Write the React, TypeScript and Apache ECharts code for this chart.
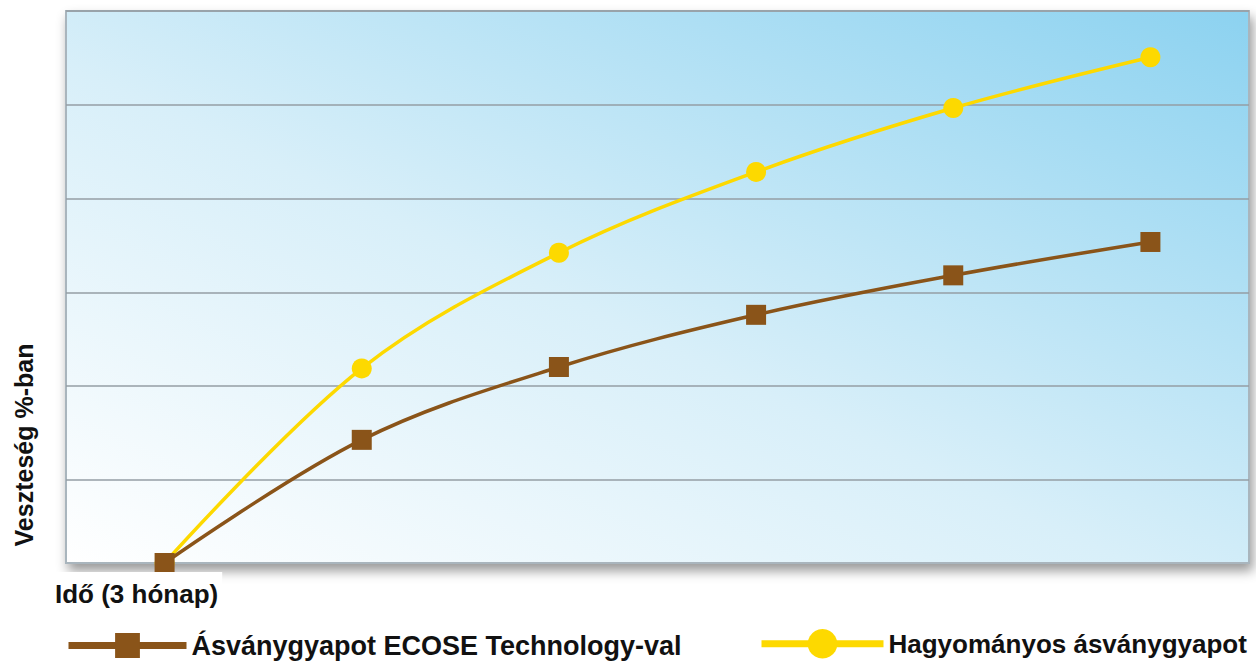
import React, { useEffect, useRef } from "react";
import * as echarts from "echarts";

// Time steps (3-month periods) – labels are not shown in the original
const categories = ["1", "2", "3", "4", "5", "6"];
// Loss values (relative units)
const ecoseValues = [0, 1.31, 2.085, 2.64, 3.06, 3.415];
const traditionalValues = [0, 2.07, 3.3, 4.16, 4.84, 5.38];

const ecoseName = "Ásványgyapot ECOSE Technology-val";
const traditionalName = "Hagyományos ásványgyapot";
const yAxisTitle = "Veszteség %-ban";
const xAxisTitle = "Idő (3 hónap)";

const BROWN = "#8a5419";
const YELLOW = "#fdd900";
const FONT = "'Liberation Sans', Arial, sans-serif";

export default function App() {
  const ref = useRef<HTMLDivElement>(null);

  useEffect(() => {
    if (!ref.current) return;
    const chart = echarts.init(ref.current, null, { renderer: "svg" });
    const legendText = {
      fontSize: 27,
      fontWeight: "bold",
      fontFamily: FONT,
      color: "#111",
    };
    chart.setOption({
      animation: false,
      backgroundColor: "#ffffff",
      grid: [
        {
          left: 66,
          top: 11,
          right: 7,
          bottom: 99,
          show: true,
          backgroundColor: new echarts.graphic.LinearGradient(0, 1, 1, 0, [
            { offset: 0, color: "#ffffff" },
            { offset: 0.45, color: "#d8eff9" },
            { offset: 1, color: "#8cd2f0" },
          ]),
          borderColor: "#a9b5bd",
          borderWidth: 2,
          shadowBlur: 12,
          shadowColor: "rgba(0,0,0,0.4)",
          shadowOffsetY: 7,
          shadowOffsetX: 3,
        },
        { left: 66, top: 11, right: 7, bottom: 182, show: false },
      ],
      xAxis: [
        {
          type: "category",
          data: categories,
          boundaryGap: true,
          show: false,
        },
        { type: "value", gridIndex: 1, min: 0, max: 1, show: false },
      ],
      yAxis: [
        {
          type: "value",
          min: 0,
          max: 5.872,
          show: false,
          splitLine: { show: false },
        },
        {
          type: "value",
          gridIndex: 1,
          min: 0,
          max: 5,
          interval: 1,
          axisLine: { show: false },
          axisTick: { show: false },
          axisLabel: { show: false },
          splitLine: { show: true, lineStyle: { color: "#949ea4", width: 1.5 } },
        },
      ],
      legend: [
        {
          data: [ecoseName],
          left: 65,
          top: 632,
          padding: 0,
          itemWidth: 118,
          itemHeight: 31,
          selectedMode: false,
          lineStyle: { width: 7 },
          textStyle: legendText,
        },
        {
          data: [traditionalName],
          left: 758,
          top: 629,
          padding: 0,
          itemWidth: 122,
          itemHeight: 37,
          selectedMode: false,
          lineStyle: { width: 7 },
          textStyle: { ...legendText, fontSize: 26 },
        },
      ],
      series: [
        {
          name: traditionalName,
          type: "line",
          data: traditionalValues,
          smooth: 0.35,
          symbol: "circle",
          symbolSize: 20,
          itemStyle: { color: YELLOW },
          lineStyle: { color: YELLOW, width: 3.5 },
          z: 2,
        },
        {
          name: ecoseName,
          type: "line",
          data: ecoseValues,
          smooth: 0.35,
          symbol: "rect",
          symbolSize: 20,
          itemStyle: { color: BROWN },
          lineStyle: { color: BROWN, width: 3.5 },
          z: 3,
        },
      ],
      graphic: [
        {
          type: "text",
          x: 24,
          y: 445,
          rotation: Math.PI / 2,
          z: 10,
          style: {
            text: yAxisTitle,
            fontSize: 25,
            fontWeight: "bold",
            fontFamily: FONT,
            fill: "#111",
            align: "center",
            verticalAlign: "middle",
          },
        },
        {
          type: "text",
          x: 53,
          y: 594,
          z: 10,
          style: {
            text: xAxisTitle,
            fontSize: 26,
            fontWeight: "bold",
            fontFamily: FONT,
            fill: "#111",
            align: "left",
            verticalAlign: "middle",
            backgroundColor: "#ffffff",
            padding: [10, 4, 8, 2],
          },
        },
      ],
    });
    return () => chart.dispose();
  }, []);

  return (
    <div
      ref={ref}
      style={{ position: "absolute", left: 0, top: 0, width: 1256, height: 662 }}
    />
  );
}
